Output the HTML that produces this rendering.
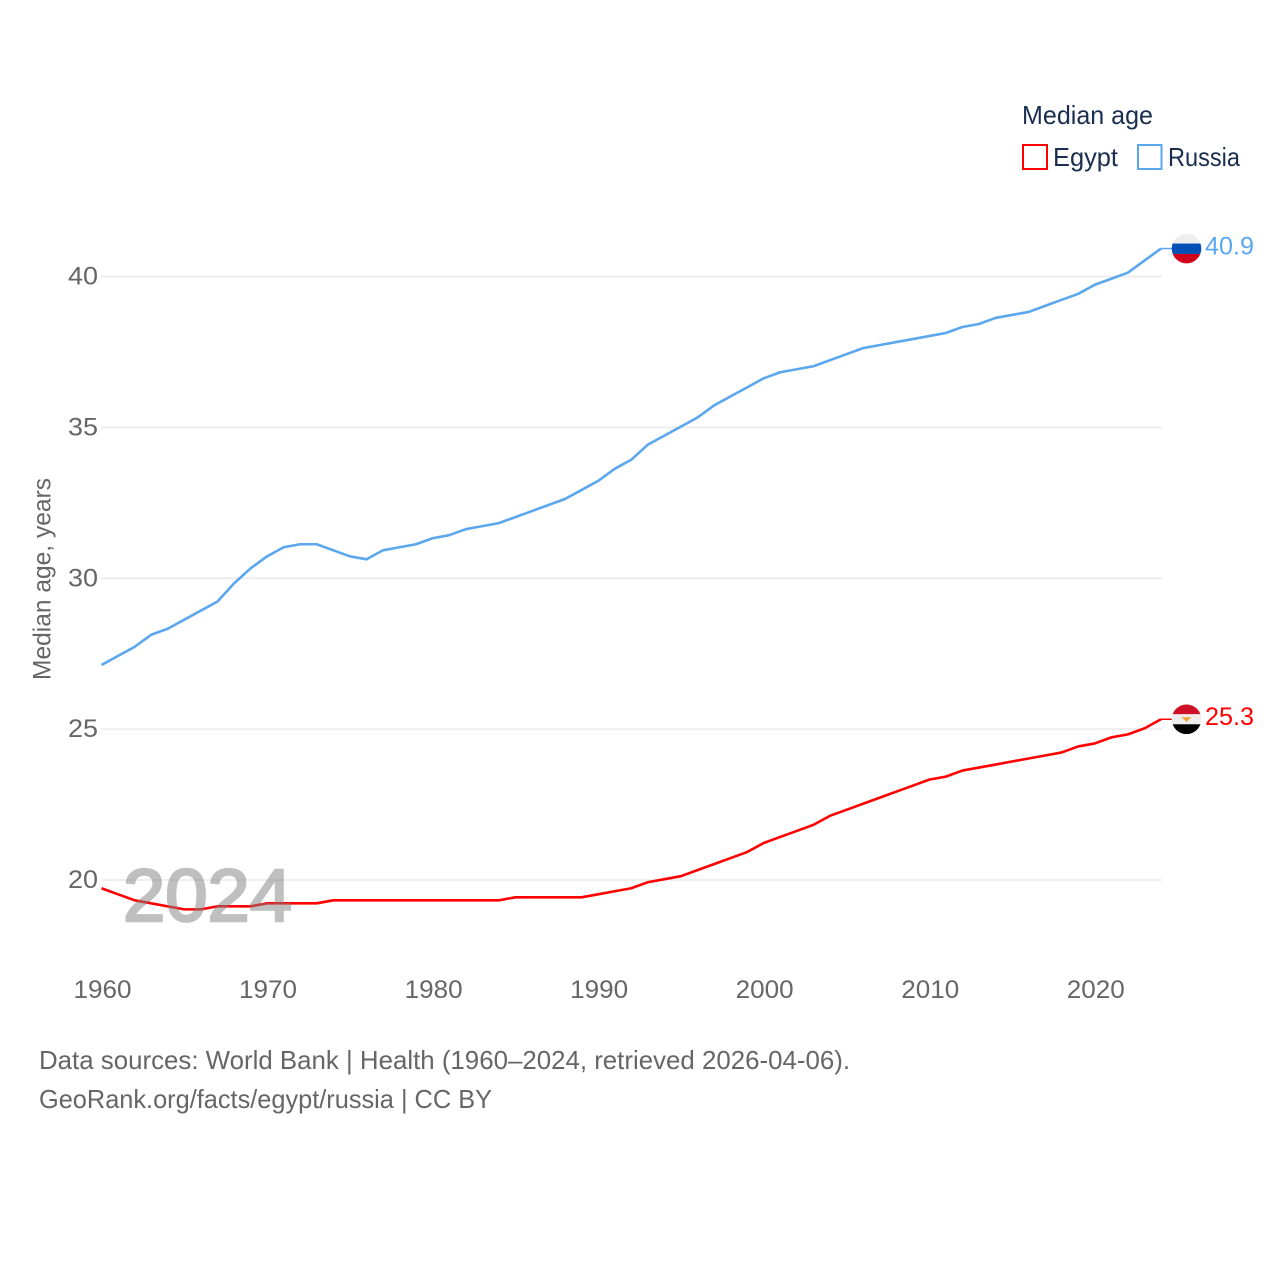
<!DOCTYPE html>
<html lang="en">
<head>
<meta charset="utf-8">
<title>Median age: Egypt and Russia</title>
<style>
html,body{margin:0;padding:0;background:#fff;width:1280px;height:1280px;overflow:hidden}
svg{display:block}
text{font-family:"Liberation Sans",sans-serif;font-size:25px;fill:#666}
</style>
</head>
<body>
<svg id="chart" width="1280" height="1280" viewBox="0 0 1280 1280" xmlns="http://www.w3.org/2000/svg">
  <defs>
    <clipPath id="flag-clip"><circle cx="0" cy="0" r="14.8"></circle></clipPath>
  </defs>
  <g id="grid"></g>
  <g id="y-ticks"></g>
  <g id="x-ticks"></g>
  <text transform="translate(50.5,680) rotate(-90)" textLength="202" lengthAdjust="spacingAndGlyphs" style="font-size:25px">Median age, years</text>

  <g transform="translate(0,-0.8)">
    <polyline id="tail-egypt" fill="none" stroke="#ff0000" stroke-width="1.5"></polyline>
    <polyline id="tail-russia" fill="none" stroke="#5ba7ee" stroke-width="1.5"></polyline>
    <polyline id="line-egypt" fill="none" stroke="#ff0000" stroke-width="2.6" stroke-linejoin="round"></polyline>
    <polyline id="line-russia" fill="none" stroke="#5ba7ee" stroke-width="2.6" stroke-linejoin="round"></polyline>
  </g>

  <text x="123" y="921" textLength="169" lengthAdjust="spacingAndGlyphs" style="font-size:74px;fill:#808080;stroke:#808080;stroke-width:2.6;opacity:.5">2024</text>

  <g id="flag-russia">
    <g clip-path="url(#flag-clip)">
      <rect x="-15" y="-15" width="30" height="10" fill="#eeeeee"></rect>
      <rect x="-15" y="-5" width="30" height="10.4" fill="#0050b8"></rect>
      <rect x="-15" y="5.4" width="30" height="10" fill="#d0021b"></rect>
    </g>
  </g>
  <g id="flag-egypt">
    <g clip-path="url(#flag-clip)">
      <rect x="-15" y="-15" width="30" height="10" fill="#ce1126"></rect>
      <rect x="-15" y="-5" width="30" height="10" fill="#eeeeee"></rect>
      <rect x="-15" y="5" width="30" height="10" fill="#000000"></rect>
      <path d="M-5 -2 L5 -2 L1.5 1 L0 3 L-1.5 1 Z" fill="#f0a030"></path>
    </g>
  </g>
  <text id="value-russia" textLength="49" lengthAdjust="spacingAndGlyphs" style="fill:#5ba7ee;font-size:25px"></text>
  <text id="value-egypt" textLength="49" lengthAdjust="spacingAndGlyphs" style="fill:#ff0000;font-size:25px"></text>

  <g>
    <text x="1022" y="124" textLength="131" lengthAdjust="spacingAndGlyphs" style="font-size:26px;fill:#1a2f4f">Median age</text>
    <rect x="1023" y="145" width="24" height="24" fill="#fff" stroke="#ff0000" stroke-width="2"></rect>
    <text x="1053" y="166" textLength="65" lengthAdjust="spacingAndGlyphs" style="font-size:26px;fill:#1a2f4f">Egypt</text>
    <rect x="1138" y="145" width="23.5" height="24" fill="#fff" stroke="#5ba7ee" stroke-width="2"></rect>
    <text x="1168" y="166" textLength="72" lengthAdjust="spacingAndGlyphs" style="font-size:26px;fill:#1a2f4f">Russia</text>
  </g>

  <text x="39" y="1069" textLength="811" lengthAdjust="spacingAndGlyphs" style="font-size:26px">Data sources: World Bank | Health (1960–2024, retrieved 2026-04-06).</text>
  <text x="39" y="1108" textLength="453" lengthAdjust="spacingAndGlyphs" style="font-size:26px">GeoRank.org/facts/egypt/russia | CC BY</text>
</svg>
<script>
var startYear = 1960;
var russiaValues = [27.1,27.4,27.7,28.1,28.3,28.6,28.9,29.2,29.8,30.3,30.7,31.0,31.1,31.1,30.9,30.7,30.6,30.9,31.0,31.1,31.3,31.4,31.6,31.7,31.8,32.0,32.2,32.4,32.6,32.9,33.2,33.6,33.9,34.4,34.7,35.0,35.3,35.7,36.0,36.3,36.6,36.8,36.9,37.0,37.2,37.4,37.6,37.7,37.8,37.9,38.0,38.1,38.3,38.4,38.6,38.7,38.8,39.0,39.2,39.4,39.7,39.9,40.1,40.5,40.9];
var egyptValues = [19.7,19.5,19.3,19.2,19.1,19.0,19.0,19.1,19.1,19.1,19.2,19.2,19.2,19.2,19.3,19.3,19.3,19.3,19.3,19.3,19.3,19.3,19.3,19.3,19.3,19.4,19.4,19.4,19.4,19.4,19.5,19.6,19.7,19.9,20.0,20.1,20.3,20.5,20.7,20.9,21.2,21.4,21.6,21.8,22.1,22.3,22.5,22.7,22.9,23.1,23.3,23.4,23.6,23.7,23.8,23.9,24.0,24.1,24.2,24.4,24.5,24.7,24.8,25.0,25.3];
var yTickValues = [20,25,30,35,40];
var xTickValues = [1960,1970,1980,1990,2000,2010,2020];

var SVG_NS = 'http://www.w3.org/2000/svg';
function xScale(year){ return 101.5 + (year - 1960) * 16.555; }
function yScale(v){ return 880 - (v - 20) * 30.175; }

var gridLayer = document.getElementById('grid');
var yLayer = document.getElementById('y-ticks');
var xLayer = document.getElementById('x-ticks');

yTickValues.forEach(function(v){
  var g = document.createElementNS(SVG_NS, 'line');
  
  
  g.setAttribute('x1', 101);
  g.setAttribute('x2', 1162);
  g.setAttribute('y1', yScale(v));
  g.setAttribute('y2', yScale(v));
  g.setAttribute('stroke', '#eeeeee');
  g.setAttribute('stroke-width', '2');
  gridLayer.appendChild(g);

  var t = document.createElementNS(SVG_NS, 'text');
  
  
  t.setAttribute('x', 98);
  t.setAttribute('y', yScale(v) + 8);
  t.setAttribute('text-anchor', 'end');
  t.setAttribute('textLength', '30');
  t.setAttribute('lengthAdjust', 'spacingAndGlyphs');
  t.textContent = String(v);
  yLayer.appendChild(t);
});

xTickValues.forEach(function(y){
  var t = document.createElementNS(SVG_NS, 'text');
  
  
  t.setAttribute('x', xScale(y) + 1);
  t.setAttribute('y', 998);
  t.setAttribute('text-anchor', 'middle');
  t.setAttribute('textLength', '58');
  t.setAttribute('lengthAdjust', 'spacingAndGlyphs');
  t.textContent = String(y);
  xLayer.appendChild(t);
});

function pointsFor(values){
  return values.map(function(v, i){
    return xScale(startYear + i).toFixed(2) + ',' + yScale(v).toFixed(2);
  }).join(' ');
}

function drawSeries(key, values){
  document.getElementById('line-' + key).setAttribute('points', pointsFor(values));
  var last = values[values.length - 1];
  var lastX = xScale(startYear + values.length - 1);
  var lastY = yScale(last);
  document.getElementById('tail-' + key).setAttribute('points', lastX + ',' + lastY + ' ' + (lastX + 12) + ',' + lastY);
  document.getElementById('flag-' + key).setAttribute('transform', 'translate(' + (lastX + 25.5) + ',' + (lastY - 0.8) + ')');
  var label = document.getElementById('value-' + key);
  label.setAttribute('x', lastX + 44);
  label.setAttribute('y', lastY + 5);
  label.textContent = last.toFixed(1);
}

drawSeries('egypt', egyptValues);
drawSeries('russia', russiaValues);
</script>
</body>
</html>
